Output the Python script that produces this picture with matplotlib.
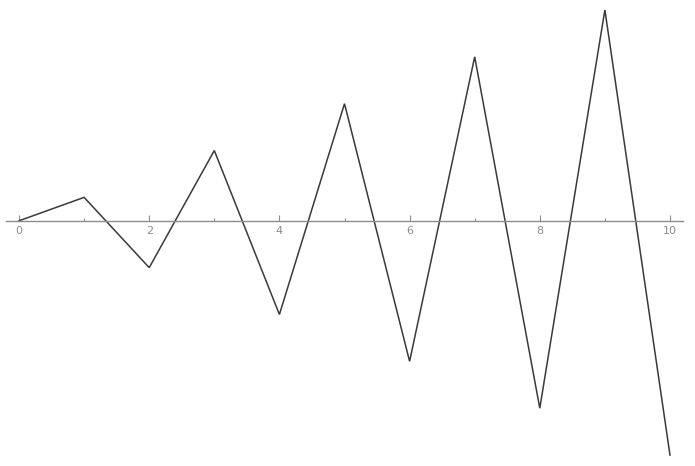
import matplotlib
matplotlib.use("Agg")
import matplotlib.pyplot as plt
from matplotlib.ticker import MultipleLocator

n = [0, 1, 2, 3, 4, 5, 6, 7, 8, 9, 10]
values = [0, 1, -2, 3, -4, 5, -6, 7, -8, 9, -10]
xtick_labels = ["0", "2", "4", "6", "8", "10"]
xtick_pos = [0, 2, 4, 6, 8, 10]

W, H = 695, 466
fig = plt.figure(figsize=(W / 100, H / 100), dpi=100)
ax = fig.add_axes([6 / W, (466 - 459.7) / H, 677 / W, 454.4 / H])
ax.plot(n, values, color="#3a3a3a", linewidth=1.1, solid_joinstyle="miter")
ax.set_xlim(-0.2, 10.2)
ax.set_ylim(-10.2, 9.2)

for s in ["left", "right", "top"]:
    ax.spines[s].set_visible(False)
ax.spines["bottom"].set_position(("data", 0))
ax.spines["bottom"].set_color("#8c8c8c")
ax.spines["bottom"].set_linewidth(1.0)
ax.set_yticks([])
ax.set_xticks(xtick_pos)
ax.set_xticklabels(xtick_labels)
ax.xaxis.set_minor_locator(MultipleLocator(1))
ax.tick_params(axis="x", which="major", direction="in", length=4, width=0.8,
               color="#8c8c8c", labelcolor="#8c8c8c", labelsize=8, pad=4)
ax.tick_params(axis="x", which="minor", direction="in", length=2, width=0.8,
               color="#8c8c8c")
fig.savefig("out.png", dpi=100)
